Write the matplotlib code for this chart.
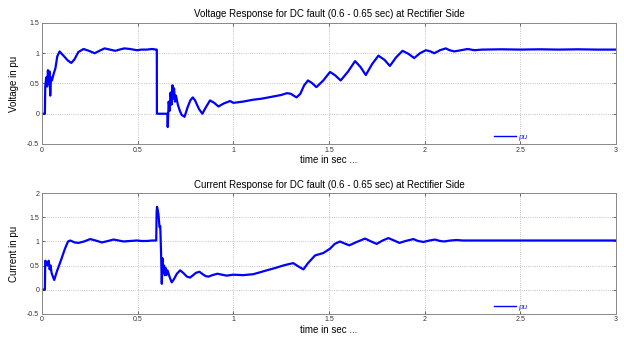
import matplotlib
matplotlib.use("Agg")
import matplotlib.pyplot as plt

plt.rcParams['font.family'] = ['Liberation Sans', 'DejaVu Sans']

# ---------------- data ----------------
t_v = [0, 0.015, 0.017, 0.022, 0.027, 0.031, 0.035, 0.039, 0.043, 0.047, 0.052, 0.06, 0.07, 0.08,
       0.092, 0.1, 0.115, 0.135, 0.153, 0.17, 0.19, 0.217, 0.245, 0.275, 0.3, 0.327, 0.355, 0.383,
       0.405, 0.43, 0.46, 0.496, 0.52, 0.548, 0.575, 0.597, 0.6, 0.6005, 0.655, 0.657, 0.662, 0.667,
       0.672, 0.677, 0.682, 0.686, 0.69, 0.695, 0.7, 0.71, 0.72, 0.73, 0.745, 0.76, 0.775, 0.788,
       0.8, 0.82, 0.838, 0.855, 0.878, 0.9, 0.922, 0.95, 0.983, 1.0, 1.05, 1.1, 1.15, 1.2, 1.25,
       1.28, 1.3, 1.315, 1.33, 1.35, 1.37, 1.39, 1.41, 1.434, 1.47, 1.505, 1.53, 1.561, 1.6, 1.636,
       1.665, 1.692, 1.725, 1.758, 1.79, 1.818, 1.85, 1.884, 1.915, 1.945, 1.975, 2.006, 2.03, 2.05,
       2.08, 2.11, 2.13, 2.154, 2.19, 2.224, 2.26, 2.3, 2.4, 2.5, 2.6, 2.7, 2.8, 2.9, 3.0]
voltage = [0, 0, 0.45, 0.6, 0.45, 0.72, 0.5, 0.7, 0.3, 0.6, 0.55, 0.65, 0.75, 0.95,
           1.03, 1.0, 0.95, 0.88, 0.84, 0.9, 1.02, 1.07, 1.04, 1.0, 1.04, 1.08, 1.06, 1.04,
           1.06, 1.08, 1.07, 1.05, 1.06, 1.06, 1.07, 1.06, 1.06, 0, 0, -0.22, 0.2, 0.05,
           0.35, 0.15, 0.47, 0.25, 0.42, 0.2, 0.3, 0.15, 0.05, -0.02, -0.05, 0.1, 0.22, 0.27,
           0.22, 0.08, 0.0, 0.1, 0.22, 0.18, 0.12, 0.17, 0.21, 0.18, 0.2, 0.23, 0.25, 0.28, 0.31,
           0.34, 0.33, 0.3, 0.27, 0.33, 0.47, 0.55, 0.51, 0.44, 0.55, 0.69, 0.64, 0.55, 0.7, 0.87,
           0.77, 0.64, 0.82, 0.96, 0.89, 0.79, 0.93, 1.04, 0.99, 0.92, 1.0, 1.05, 1.03, 1.0,
           1.05, 1.08, 1.05, 1.03, 1.05, 1.07, 1.05, 1.06, 1.065, 1.06, 1.065, 1.06, 1.065, 1.06, 1.06]

t_i = [0, 0.015, 0.017, 0.022, 0.028, 0.035, 0.04, 0.045, 0.05, 0.056, 0.064, 0.078, 0.1, 0.12,
       0.136, 0.148, 0.17, 0.19, 0.22, 0.252, 0.28, 0.313, 0.345, 0.374, 0.4, 0.426, 0.46, 0.496,
       0.52, 0.548, 0.575, 0.597, 0.599, 0.601, 0.605, 0.609, 0.614, 0.618, 0.622, 0.626, 0.63,
       0.634, 0.638, 0.642, 0.646, 0.65, 0.655, 0.66, 0.668, 0.678, 0.69, 0.705, 0.722, 0.74,
       0.757, 0.774, 0.79, 0.805, 0.823, 0.84, 0.855, 0.87, 0.89, 0.917, 0.94, 0.965, 1.0, 1.05,
       1.104, 1.14, 1.174, 1.22, 1.26, 1.29, 1.313, 1.34, 1.366, 1.39, 1.427, 1.47, 1.505, 1.53,
       1.557, 1.58, 1.606, 1.645, 1.688, 1.72, 1.749, 1.78, 1.81, 1.84, 1.868, 1.9, 1.941, 1.965,
       1.993, 2.025, 2.054, 2.08, 2.101, 2.135, 2.167, 2.2, 2.3, 2.5, 2.7, 3.0]
current = [0, 0, 0.6, 0.58, 0.5, 0.6, 0.42, 0.5, 0.35, 0.28, 0.2, 0.38, 0.62, 0.85,
           1.0, 1.02, 0.98, 0.97, 1.0, 1.05, 1.02, 0.98, 1.01, 1.04, 1.02, 1.0, 1.01, 1.02,
           1.01, 1.01, 1.02, 1.02, 1.6, 1.72, 1.65, 1.55, 1.3, 1.32, 0.8, 0.12, 0.65,
           0.35, 0.5, 0.3, 0.45, 0.3, 0.4, 0.35, 0.25, 0.15, 0.22, 0.33, 0.4, 0.34,
           0.27, 0.25, 0.3, 0.35, 0.37, 0.32, 0.28, 0.27, 0.3, 0.33, 0.31, 0.29, 0.31, 0.3,
           0.32, 0.36, 0.4, 0.45, 0.5, 0.53, 0.55, 0.48, 0.42, 0.55, 0.71, 0.76, 0.85, 0.95,
           1.0, 0.96, 0.92, 0.99, 1.06, 1.0, 0.95, 1.02, 1.07, 1.02, 0.97, 1.01, 1.05, 1.01,
           0.99, 1.02, 1.04, 1.01, 1.0, 1.02, 1.03, 1.02, 1.02, 1.02, 1.02, 1.02]

titles = ["Voltage Response for DC fault (0.6 - 0.65 sec) at Rectifier Side",
          "Current Response for DC fault (0.6 - 0.65 sec) at Rectifier Side"]
ylabels = ["Voltage in pu", "Current in pu"]
xlabel = "time in sec ..."
xticks = [0, 0.5, 1, 1.5, 2, 2.5, 3]
xticklabels = ["0", "0.5", "1", "1.5", "2", "2.5", "3"]
yticks_v = [-0.5, 0, 0.5, 1, 1.5]
yticklabels_v = ["-0.5", "0", "0.5", "1", "1.5"]
yticks_i = [-0.5, 0, 0.5, 1, 1.5, 2]
yticklabels_i = ["-0.5", "0", "0.5", "1", "1.5", "2"]

# ---------------- figure ----------------
fig = plt.figure(figsize=(6.24, 3.38), dpi=100)
ax1 = fig.add_axes([0.0673, 0.574, 0.92, 0.358])
ax2 = fig.add_axes([0.0673, 0.072, 0.92, 0.356])

setups = [
    (ax1, t_v, voltage, yticks_v, yticklabels_v, (-0.5, 1.5), 0),
    (ax2, t_i, current, yticks_i, yticklabels_i, (-0.5, 2), 1),
]
for ax, tt, yy, yt, ytl, ylim, k in setups:
    ax.plot(tt, yy, color="#0000ff", lw=1.6, label="pu")
    ax.set_xlim(0, 3)
    ax.set_ylim(*ylim)
    ax.set_xticks(xticks)
    ax.set_xticklabels(xticklabels)
    ax.set_yticks(yt)
    ax.set_yticklabels(ytl)
    ax.grid(True, linestyle=":", color="#b0b0b0", lw=0.6)
    ax.tick_params(direction="in", length=2, width=0.5, labelsize=5, colors="#333333",
                   top=True, right=True, pad=2)
    for s in ax.spines.values():
        s.set_color("#888888")
        s.set_linewidth(0.7)
    ax.set_title(titles[k], fontsize=7, pad=4)
    ax.set_ylabel(ylabels[k], fontsize=7, labelpad=6)
    ax.set_xlabel(xlabel, fontsize=7, labelpad=1)
    leg = ax.legend(loc="lower left", bbox_to_anchor=(0.775, -0.04), frameon=False,
                    handlelength=2.6, handletextpad=0.3,
                    labelcolor="#3030ff", prop={"style": "italic", "size": 6})
    for ln in leg.get_lines():
        ln.set_linewidth(1.0)

fig.savefig("out.png", dpi=100)
